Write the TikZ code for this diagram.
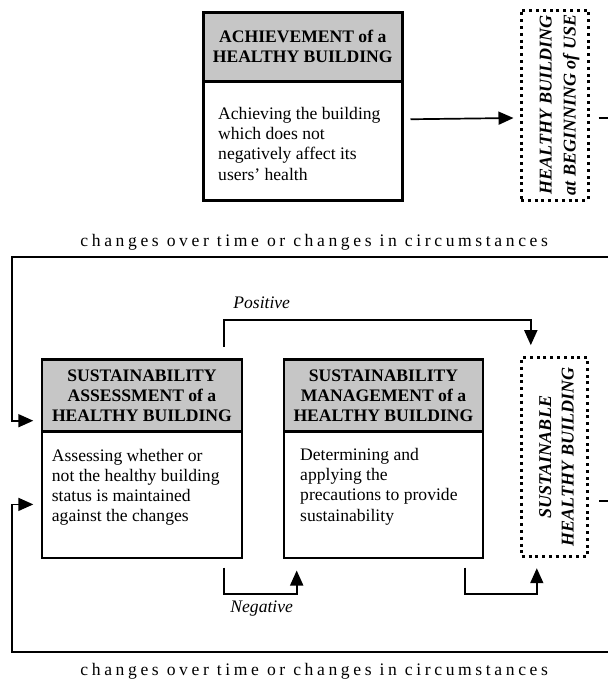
\documentclass[tikz,border=0pt]{standalone}
\usepackage{fontspec}
\setmainfont{Liberation Serif}
\usetikzlibrary{arrows.meta}
\definecolor{hdrgray}{RGB}{198,198,198}
\begin{document}
\begin{tikzpicture}[x=1pt,y=-1pt,
  boxline/.style={draw, line width=2.5pt},
  hdr/.style={boxline, fill=hdrgray, anchor=north west, align=center, inner sep=0pt,
    font=\fontsize{17.6}{20}\selectfont\bfseries},
  bodybox/.style={boxline, fill=white, anchor=north west, inner sep=0pt},
  bodytext/.style={anchor=north west, align=left, inner sep=0pt,
    font=\fontsize{17.6}{20.2}\selectfont},
  dotbox/.style={draw, line width=3pt, dash pattern=on 3pt off 3.8pt, inner sep=0pt},
  vtext/.style={rotate=90, align=center, inner sep=0pt, font=\fontsize{18}{24}\selectfont\bfseries\itshape},
  conn/.style={line width=1.7pt},
  arr/.style={conn, -{Triangle[length=15pt,width=13pt]}},
  lbl/.style={anchor=base, inner sep=0pt, font=\fontsize{17.6}{20}\selectfont\itshape},
  chg/.style={anchor=base, inner sep=0pt, font=\fontsize{17.6}{20}\selectfont\addfontfeature{LetterSpace=20.5}}
]
\useasboundingbox (0,0) rectangle (608,681);

% top row
\node[bodybox, minimum width=199pt, minimum height=119pt] (achB) at (202,80) {};
\node[hdr, minimum width=199pt, minimum height=69pt] (achH) at (202,11) {ACHIEVEMENT of a\\HEALTHY BUILDING};
\node[bodytext] (achT) at (218,107) {Achieving the building\\which does not\\negatively affect its\\users' health};

\node[dotbox, minimum width=67pt, minimum height=190pt] (hb) at (554.5,105) {};
\node[vtext] (hbT) at (559.5,105) {HEALTHY BUILDING\\at BEGINNING of USE};

% lower row
\node[bodybox, minimum width=200pt, minimum height=126.7pt] (asB) at (40.7,430) {};
\node[hdr, minimum width=200pt, minimum height=71.7pt] (asH) at (40.7,358.3) {SUSTAINABILITY\\ASSESSMENT of a\\HEALTHY BUILDING};
\node[bodytext] (asT) at (51.7,448.6) {Assessing whether or\\not the healthy building\\status is maintained\\against the changes};

\node[bodybox, minimum width=199pt, minimum height=126.7pt] (mgB) at (282.7,430) {};
\node[hdr, minimum width=199pt, minimum height=71.7pt] (mgH) at (282.7,358.3) {SUSTAINABILITY\\MANAGEMENT of a\\HEALTHY BUILDING};
\node[bodytext] (mgT) at (300,448) {Determining and\\applying the\\precautions to provide\\sustainability};

\node[dotbox, minimum width=65.6pt, minimum height=199.4pt] (sb) at (554.5,457) {};
\node[vtext, font=\fontsize{18}{22.5}\selectfont\bfseries\itshape] (sbT) at (556.5,457) {SUSTAINABLE\\HEALTHY BUILDING};

% labels
\node[chg] (chgTop) at (314.2,246.7) {changes over time or changes in circumstances};
\node[chg] (chgBot) at (314.2,675) {changes over time or changes in circumstances};
\node[lbl] (pos) at (261.7,308.5) {Positive};
\node[lbl] (neg) at (261.7,612.5) {Negative};

% connectors
\draw[arr] ([shift={(7,-21.5)}]achB.east) -- ([shift={(-6,13)}]hb.west);
\coordinate (hbOut) at ([shift={(9,13)}]hb.east);
\draw[conn] (hbOut) -- ++(11,0);

\coordinate (rTop) at (608,257);
\coordinate (lTop) at (11.7,257);
\draw[arr] (rTop) -- (lTop) |- ([shift={(-7.4,25.3)}]asH.west);

\coordinate (rBot) at (608,651.7);
\coordinate (lBot) at (11.7,651.7);
\draw[arr] (rBot) -- (lBot) |- ([shift={(-7.4,9.8)}]asB.west);

\draw[arr] ([shift={(-19,-11.6)}]asH.north east) -- ++(0,-26.7) -| ([shift={(10.6,-10.6)}]sb.north west);
\draw[arr] ([shift={(-19,8.3)}]asB.south east) -- ++(0,26.7) -| ([shift={(14,11.3)}]mgB.south west);
\draw[arr] ([shift={(-19.4,8.3)}]mgB.south east) -- ++(0,26.7) -| ([shift={(16.6,10)}]sb.south west);

\coordinate (sbOut) at ([shift={(10.4,44)}]sb.east);
\draw[conn] (sbOut) -- ++(10.3,0);
\end{tikzpicture}
\end{document}
